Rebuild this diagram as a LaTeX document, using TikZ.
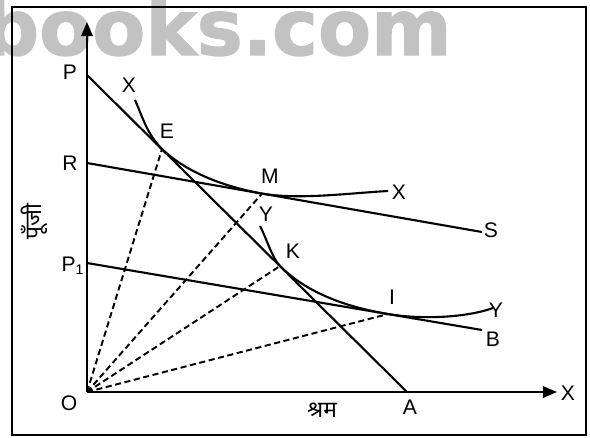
\documentclass[tikz,border=0pt]{standalone}
\usepackage{fontspec}
\setmainfont{Liberation Sans}
\newfontfamily\hindi[Script=Devanagari]{Noto Sans}
\newfontfamily\wmfont[BoldFeatures={FakeBold=1.5}]{DejaVu Sans}
\usetikzlibrary{arrows.meta}
\definecolor{markgray}{HTML}{C2C2C2}

\begin{document}
\begin{tikzpicture}[
    x=0.02cm, y=-0.02cm,
    border/.style={line width=1.4pt},
    axisline/.style={line width=1.2pt, -{Triangle[length=8pt,width=6.5pt]}},
    budget/.style={line width=1.2pt},
    curve/.style={line width=1.2pt},
    ray/.style={line width=1.1pt, dash pattern=on 3.5pt off 2pt},
    lbl/.style={font=\fontsize{12}{14}\selectfont, inner sep=0pt},
    hlbl/.style={font=\hindi\fontsize{13}{15}\selectfont, inner sep=0pt},
    wmark/.style={text=markgray, inner sep=0pt,
        font=\wmfont\bfseries\fontsize{44}{44}\selectfont}
]
\useasboundingbox (0,0) rectangle (590,437);
\node[wmark, anchor=base east] (wm) at (452,55) {books.com};
\draw[border] (12,7) rectangle (586,435);

% points of the diagram
\coordinate (O) at (87,392);
\coordinate (ytop) at (87,22);
\coordinate (xend) at (557,392);
\coordinate (P) at (87,75);
\coordinate (A) at (407,392);
\coordinate (R) at (87,163);
\coordinate (S) at (482,232);
\coordinate (P1) at (87,263);
\coordinate (B) at (482,330);
\coordinate (E) at (162,149);
\coordinate (M) at (262,193.6);
\coordinate (K) at (280,266);
\coordinate (I) at (388,314);
\coordinate (xa) at (135,100);
\coordinate (xb) at (388,191);
\coordinate (ya) at (260,226);
\coordinate (yb) at (493,308);

% axes and lines
\draw[axisline] (O) -- (ytop);
\draw[axisline] (O) -- (xend);
\draw[budget] (P) -- (A);
\draw[budget] (R) -- (S);
\draw[budget] (P1) -- (B);

% curves
\draw[curve] (xa) .. controls (143,118) and (147,134) .. (E)
    .. controls (184.5,170.3) and (217.9,185.3) .. (M)
    .. controls (300,200) and (350,193) .. (xb);
\draw[curve] (ya) .. controls (266,237) and (272,258) .. (K)
    .. controls (304,290) and (340,306) .. (I)
    .. controls (420,319.5) and (465,318) .. (yb);

\foreach \p in {E,M,K,I}
  \draw[ray] (O) -- (\p);

% labels
\node[lbl] (lP)  at (70,72)  {P};
\node[lbl] (lR)  at (70,163) {R};
\node[lbl] (lP1) at (73,266) {P\textsubscript{1}};
\node[lbl] (lO)  at (69,403) {O};
\node[lbl] (lA)  at (410,407) {A};
\node[lbl] (lX)  at (568,393) {X};
\node[lbl] (lS)  at (491,230) {S};
\node[lbl] (lB)  at (493,339) {B};
\node[lbl] (lXa) at (129,85)  {X};
\node[lbl] (lE)  at (167,131) {E};
\node[lbl] (lM)  at (270,176) {M};
\node[lbl] (lXb) at (399,192) {X};
\node[lbl] (lYa) at (266,214) {Y};
\node[lbl] (lK)  at (293,251) {K};
\node[lbl] (lI)  at (392,297) {I};
\node[lbl] (lYb) at (496,310) {Y};
\node[hlbl, rotate=90] (lcap) at (34,222) {पूँजी};
\node[hlbl] (llab) at (322,410) {श्रम};
\end{tikzpicture}
\end{document}
